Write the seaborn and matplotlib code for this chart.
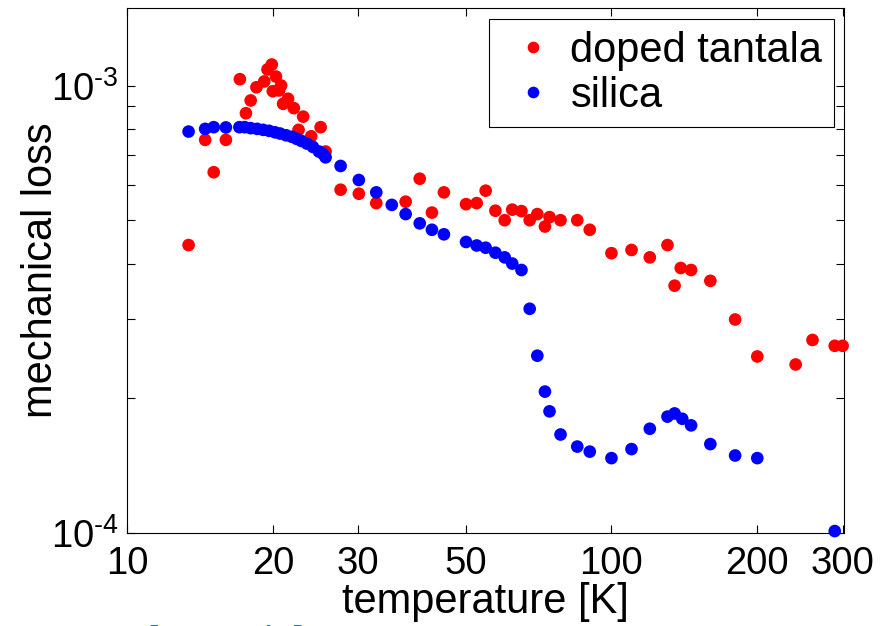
import matplotlib
matplotlib.use("Agg")
import matplotlib.pyplot as plt
import matplotlib.ticker as mticker
import seaborn as sns
import pandas as pd

# ---- data ----
tantala_T = [13.4, 14.5, 15.1, 16.0, 17.1, 17.6, 18.0, 18.5, 19.2, 19.5, 19.9, 20.0,
             20.3, 20.6, 20.8, 21.0, 21.5, 22.1, 22.6, 23.1, 24.0, 25.1, 25.7, 27.6,
             30.1, 32.7, 37.6, 40.2, 42.6, 45.1, 50.1, 52.7, 55.0, 57.6, 60.2, 62.4,
             65.2, 67.8, 70.3, 72.9, 74.5, 78.5, 85.0, 90.2, 100, 110, 120, 130.5,
             135, 139, 146, 160, 180, 200, 240, 260, 289, 300]
tantala_loss = [4.40e-4, 7.56e-4, 6.40e-4, 7.56e-4, 1.033e-3, 8.67e-4, 9.26e-4, 9.91e-4,
                1.021e-3, 1.086e-3, 1.114e-3, 9.71e-4, 1.047e-3, 9.75e-4, 1.0e-3, 9.10e-4,
                9.34e-4, 8.90e-4, 7.96e-4, 8.52e-4, 7.70e-4, 8.07e-4, 7.12e-4, 5.85e-4,
                5.73e-4, 5.46e-4, 5.50e-4, 6.19e-4, 5.20e-4, 5.77e-4, 5.43e-4, 5.46e-4,
                5.82e-4, 5.25e-4, 5.00e-4, 5.28e-4, 5.24e-4, 5.00e-4, 5.16e-4, 4.84e-4,
                5.08e-4, 5.00e-4, 5.00e-4, 4.76e-4, 4.22e-4, 4.29e-4, 4.13e-4, 4.40e-4,
                3.57e-4, 3.91e-4, 3.87e-4, 3.66e-4, 3.00e-4, 2.48e-4, 2.38e-4, 2.70e-4,
                2.62e-4, 2.62e-4]

silica_T = [13.4, 14.5, 15.1, 16.0, 17.06, 17.5, 18.0, 18.56, 19.1, 19.65, 20.2, 20.7,
            21.3, 21.9, 22.4, 22.9, 23.5, 24.2, 24.9, 25.4, 25.7, 27.6, 30.1, 32.7,
            35.2, 37.6, 40.2, 42.6, 45.1, 50.1, 52.7, 55.0, 57.6, 60.2, 62.4, 65.2,
            67.8, 70.3, 72.9, 74.5, 78.5, 85.0, 90.2, 100, 110, 120, 130.5, 135, 140,
            146, 160, 180, 200, 289]
silica_loss = [7.89e-4, 8.00e-4, 8.07e-4, 8.06e-4, 8.07e-4, 8.07e-4, 8.03e-4, 8.00e-4,
               7.96e-4, 7.92e-4, 7.86e-4, 7.81e-4, 7.74e-4, 7.68e-4, 7.60e-4, 7.52e-4,
               7.42e-4, 7.29e-4, 7.12e-4, 7.03e-4, 6.91e-4, 6.61e-4, 6.15e-4, 5.77e-4,
               5.41e-4, 5.16e-4, 4.92e-4, 4.76e-4, 4.65e-4, 4.47e-4, 4.39e-4, 4.34e-4,
               4.23e-4, 4.13e-4, 4.00e-4, 3.87e-4, 3.17e-4, 2.49e-4, 2.07e-4, 1.87e-4,
               1.66e-4, 1.56e-4, 1.52e-4, 1.47e-4, 1.54e-4, 1.71e-4, 1.82e-4, 1.85e-4,
               1.80e-4, 1.74e-4, 1.58e-4, 1.49e-4, 1.47e-4, 1.01e-4]

series_names = ["doped tantala", "silica"]
series_colors = ["#ff0000", "#0000ff"]
x_ticks = [10, 20, 30, 50, 100, 200, 300]
x_tick_labels = ["10", "20", "30", "50", "100", "200", "300"]
y_ticks = [1e-4, 1e-3]
y_tick_labels = ["$\\mathdefault{10^{\u20104}}$", "$\\mathdefault{10^{\u20103}}$"]
x_label = "temperature [K]"
y_label = "mechanical loss"
credit = "[I. Martin]"

df = pd.concat([
    pd.DataFrame({"T": tantala_T, "loss": tantala_loss, "sample": series_names[0]}),
    pd.DataFrame({"T": silica_T, "loss": silica_loss, "sample": series_names[1]}),
], ignore_index=True)

sns.set_theme(style="white")
plt.rcParams["font.family"] = ["Liberation Sans", "DejaVu Sans"]
plt.rcParams["mathtext.fontset"] = "custom"
plt.rcParams["mathtext.rm"] = "Liberation Sans"
plt.rcParams["mathtext.it"] = "Liberation Sans:italic"
plt.rcParams["mathtext.bf"] = "Liberation Sans:bold"
plt.rcParams["axes.edgecolor"] = "black"
plt.rcParams["axes.linewidth"] = 0.8
plt.rcParams["text.color"] = "black"
plt.rcParams["axes.labelcolor"] = "black"
plt.rcParams["xtick.color"] = "black"
plt.rcParams["ytick.color"] = "black"

fig = plt.figure(figsize=(8.83, 6.26), dpi=100)
ax = fig.add_axes([127 / 883, (626 - 533) / 626, (844 - 127) / 883, (533 - 8) / 626])

sns.scatterplot(data=df, x="T", y="loss", hue="sample",
                palette=dict(zip(series_names, series_colors)),
                s=83, edgecolor="none", linewidth=0, clip_on=False, ax=ax, zorder=3)

ax.set_xscale("log")
ax.set_yscale("log")
ax.set_xlim(10, 302)
ax.set_ylim(1e-4, 1.49e-3)

ax.xaxis.set_major_locator(mticker.FixedLocator(x_ticks))
ax.xaxis.set_major_formatter(mticker.FixedFormatter(x_tick_labels))
ax.xaxis.set_minor_locator(mticker.NullLocator())
ax.yaxis.set_major_locator(mticker.FixedLocator(y_ticks))
ax.yaxis.set_major_formatter(mticker.FixedFormatter(y_tick_labels))
ax.yaxis.set_minor_locator(mticker.LogLocator(base=10, subs=[2, 3, 4, 5, 6, 7, 8, 9]))
ax.yaxis.set_minor_formatter(mticker.NullFormatter())

ax.tick_params(which="both", direction="in", top=True, right=True, bottom=True, left=True,
               length=5.5, width=0.8, color="black")
ax.tick_params(axis="x", which="major", labelsize=27.5, labelcolor="black", pad=9)
ax.tick_params(axis="y", which="major", labelsize=27.5, labelcolor="black", pad=6)

ax.set_xlabel(x_label, fontsize=30, color="black", labelpad=0)
ax.set_ylabel(y_label, fontsize=30, color="black")
ax.yaxis.set_label_coords(-0.092, 0.5)

old = ax.get_legend()
handles = old.legend_handles
labels = [t.get_text() for t in old.get_texts()]
old.remove()
leg = ax.legend(handles, labels, loc="upper right",
                bbox_to_anchor=((834 - 127) / 717, (533 - 19) / 525),
                borderaxespad=0, fontsize=30, frameon=True, fancybox=False,
                framealpha=1, edgecolor="black", borderpad=0.28, labelspacing=0.12,
                handlelength=1.56, handletextpad=0.12, markerscale=0.92)
leg.get_frame().set_linewidth(0.8)
for t in leg.get_texts():
    t.set_color("black")

fig.text(148 / 883, 1 / 626, credit, color="#1a6cff", fontsize=27,
         ha="left", va="top")

fig.savefig("out.png", dpi=100, facecolor="white")
